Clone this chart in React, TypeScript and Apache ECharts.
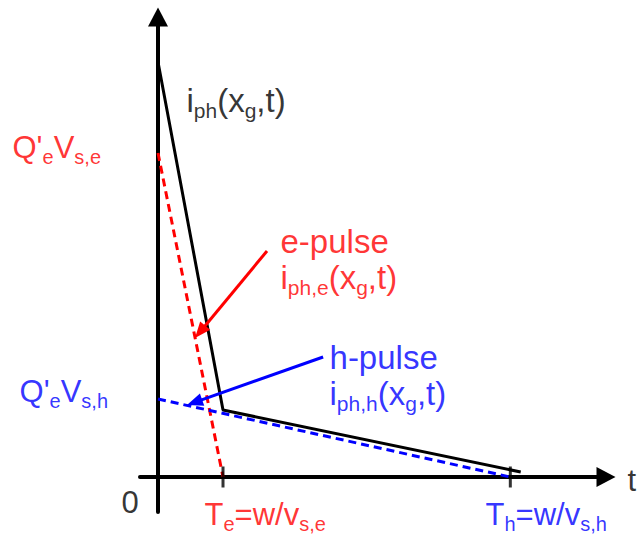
import { useEffect, useRef } from "react";
import * as echarts from "echarts";

const FONT = "'Liberation Sans', Arial, Helvetica, sans-serif";
const RED = "#ff0000";
const BLUE = "#0000ff";
const BLACK = "#000000";

// Time in units of T_e, current in arbitrary units.
const Te = 1;
const Th = 5.42;
const eAmplitude = 3.24; // Q'_e v_s,e
const hAmplitude = 0.78; // Q'_e v_s,h

// Sketched total photocurrent i_ph(x_g, t)
const totalCurrent: [number, number][] = [
  [0, 4.15],
  [1.0, 0.67],
  [5.58, 0.05],
];
// Electron and hole contributions (triangular pulses)
const ePulse: [number, number][] = [
  [0, eAmplitude],
  [Te, 0],
];
const hPulse: [number, number][] = [
  [0, hAmplitude],
  [Th, 0],
];
// Transit-time marks on the t axis
const transitTimes = [Te, Th];

// Pointer arrows from the pulse captions to their curves: [x0, y0, x1, y1]
const eArrow = [1.677, 2.26, 0.569, 1.39];
const hArrow = [2.54, 1.2, 0.446, 0.72];

// Caption texts (rich-text markup: m = main, s = subscript)
const captionCurrent = "{m|i}{s|ph}{m|(x}{s|g}{m|,t)}";
const captionQe = "{m|Q'}{s|e}{m|V}{s|s,e}";
const captionQh = "{m|Q'}{s|e}{m|V}{s|s,h}";
const captionE = "{m|e-pulse}\n{m|i}{s|ph,e}{m|(x}{s|g}{m|,t)}";
const captionH = "{m|h-pulse}\n{m|i}{s|ph,h}{m|(x}{s|g}{m|,t)}";
const captionZero = "{m|0}";
const captionTe = "{m|T}{s|e}{m|=w/v}{s|s,e}";
const captionTh = "{m|T}{s|h}{m|=w/v}{s|s,h}";
const captionT = "{m|t}";

function richStyle(main: number, sub: number) {
  return {
    m: { fontSize: main, fontFamily: FONT, lineHeight: 36, verticalAlign: "middle" },
    s: {
      fontSize: sub,
      fontFamily: FONT,
      lineHeight: 36,
      padding: [20, 0, 0, 0],
      verticalAlign: "middle",
    },
  };
}
const richCurve = richStyle(33, 21);
const richAxis = richStyle(31, 20);

// Where each caption's left edge / vertical centre sits, in axis units
const captions = [
  { text: captionCurrent, at: [0.431, 3.765], color: BLACK, rich: richCurve },
  { text: captionQe, at: [-2.246, 3.3], color: RED, rich: richAxis },
  { text: captionE, at: [1.877, 2.175], color: RED, rich: richCurve },
  { text: captionH, at: [2.631, 1.015], color: BLUE, rich: richCurve },
  { text: captionQh, at: [-2.138, 0.86], color: BLUE, rich: richAxis },
  { text: captionZero, at: [-0.569, -0.25], color: BLACK, rich: richAxis },
  { text: captionTe, at: [0.708, -0.37], color: RED, rich: richAxis },
  { text: captionTh, at: [5.031, -0.37], color: BLUE, rich: richAxis },
  { text: captionT, at: [7.215, -0.03], color: BLACK, rich: richAxis },
];

const axisCommon = {
  type: "value" as const,
  axisLine: {
    onZero: true,
    symbol: ["none", "triangle"],
    symbolSize: [20, 19],
    lineStyle: { color: BLACK, width: 4 },
  },
  axisTick: { show: false },
  axisLabel: { show: false },
  splitLine: { show: false },
};

export default function App() {
  const ref = useRef<HTMLDivElement>(null);

  useEffect(() => {
    if (!ref.current) return;
    const chart = echarts.init(ref.current, undefined, { renderer: "svg" });

    const option: any = {
      animation: false,
      backgroundColor: "#ffffff",
      grid: { left: 140, right: 34, top: 17, bottom: 24 },
      xAxis: { ...axisCommon, min: -0.277, max: 6.892 },
      yAxis: { ...axisCommon, min: -0.35, max: 4.6 },
      series: [
        {
          name: "i_ph",
          type: "line",
          data: totalCurrent,
          symbol: "none",
          silent: true,
          lineStyle: { color: BLACK, width: 3 },
          z: 3,
        },
        {
          name: "e-pulse",
          type: "line",
          data: ePulse,
          symbol: "none",
          silent: true,
          lineStyle: { color: RED, width: 3, type: [8, 5] },
          z: 4,
        },
        {
          name: "h-pulse",
          type: "line",
          data: hPulse,
          symbol: "none",
          silent: true,
          lineStyle: { color: BLUE, width: 3, type: [8, 5] },
          z: 4,
        },
        {
          name: "transit times",
          type: "scatter",
          data: transitTimes.map((t) => [t, 0]),
          symbol: "rect",
          symbolSize: [3, 21],
          silent: true,
          itemStyle: { color: BLACK },
          z: 5,
        },
        {
          name: "pointers",
          type: "custom",
          silent: true,
          z: 6,
          encode: { x: [0, 2], y: [1, 3] },
          data: [
            { value: eArrow, itemStyle: { color: RED } },
            { value: hArrow, itemStyle: { color: BLUE } },
          ],
          renderItem: (_params: any, api: any) => {
            const a = api.coord([api.value(0), api.value(1)]);
            const b = api.coord([api.value(2), api.value(3)]);
            const dx = b[0] - a[0];
            const dy = b[1] - a[1];
            const len = Math.hypot(dx, dy);
            const ux = dx / len;
            const uy = dy / len;
            const headLen = 16;
            const headHalf = 6.5;
            const bx = b[0] - ux * headLen;
            const by = b[1] - uy * headLen;
            const color = api.visual("color");
            return {
              type: "group",
              children: [
                {
                  type: "line",
                  shape: { x1: a[0], y1: a[1], x2: bx + ux * 2, y2: by + uy * 2 },
                  style: { stroke: color, lineWidth: 3 },
                },
                {
                  type: "polygon",
                  shape: {
                    points: [
                      [b[0], b[1]],
                      [bx - uy * headHalf, by + ux * headHalf],
                      [bx + uy * headHalf, by - ux * headHalf],
                    ],
                  },
                  style: { fill: color },
                },
              ],
            };
          },
        },
        {
          name: "captions",
          type: "scatter",
          clip: false,
          silent: true,
          symbolSize: 1,
          itemStyle: { color: "rgba(0,0,0,0)" },
          z: 7,
          data: captions.map((c) => ({
            value: c.at,
            label: {
              show: true,
              position: "right",
              distance: 0,
              formatter: c.text,
              color: c.color,
              fontFamily: FONT,
              fontSize: 31,
              rich: c.rich,
            },
          })),
        },
      ],
    };

    chart.setOption(option);
    return () => chart.dispose();
  }, []);

  return (
    <div
      ref={ref}
      style={{ position: "absolute", left: 0, top: 0, width: 640, height: 536 }}
    />
  );
}
